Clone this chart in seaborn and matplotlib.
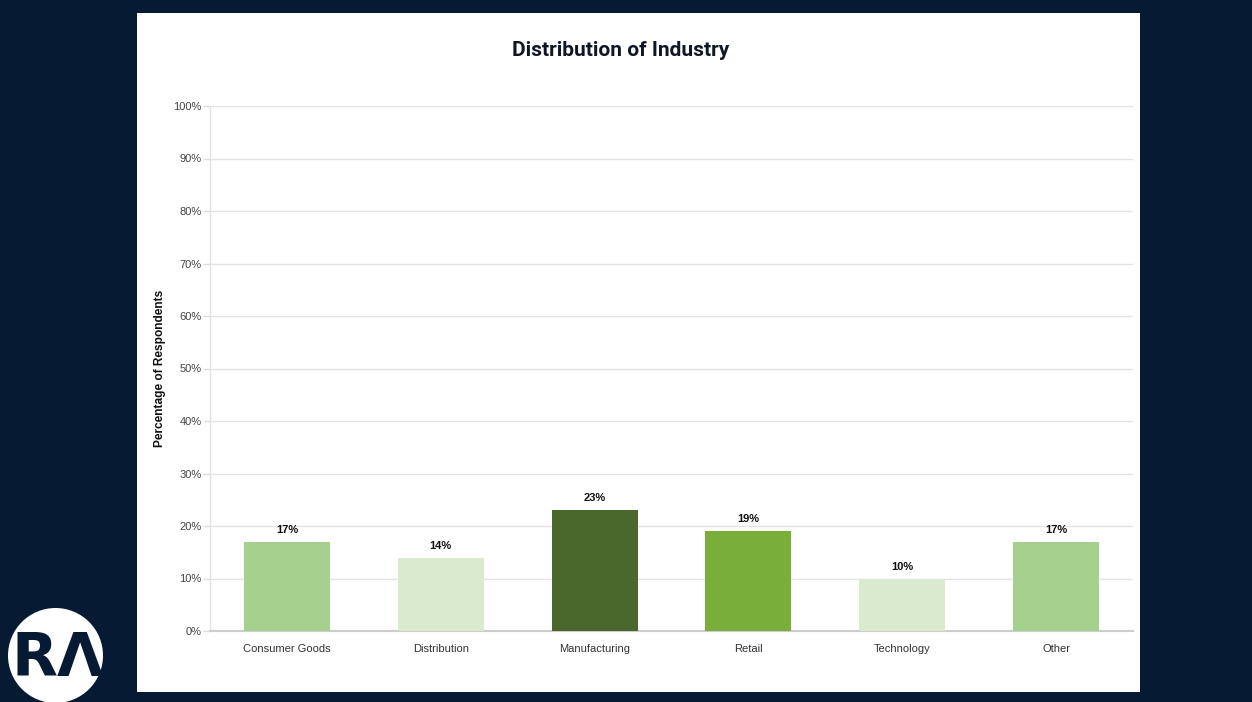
import matplotlib
matplotlib.use("Agg")
import matplotlib.pyplot as plt
from matplotlib import font_manager
from matplotlib.patches import Rectangle, Circle
import seaborn as sns
import pandas as pd

# Survey results
categories = ["Consumer Goods", "Distribution", "Manufacturing", "Retail", "Technology", "Other"]
shares = [17, 14, 23, 19, 10, 17]
bar_colors = ["#a6d08d", "#d9eace", "#4a682c", "#7aae3a", "#d9eace", "#a6d08d"]
y_ticks = list(range(0, 101, 10))

# keep the regular-width Liberation Sans faces only
font_manager.fontManager.ttflist = [f for f in font_manager.fontManager.ttflist
                                    if "Narrow" not in f.fname]

sns.set_theme(style="white")
plt.rcParams["font.family"] = ["Liberation Sans", "DejaVu Sans"]

W, H = 1252, 702
fig = plt.figure(figsize=(W / 100, H / 100), dpi=100, facecolor="#061a33")

# white card behind the chart
fig.patches.append(Rectangle((137 / W, (H - 692) / H), (1140 - 137) / W, (692 - 13) / H,
                             transform=fig.transFigure, facecolor="white", edgecolor="none", zorder=-5))

ax = fig.add_axes([210 / W, (H - 631) / H, (1133 - 210) / W, (631 - 106) / H])
ax.set_facecolor("none")

df = pd.DataFrame({"Industry": categories, "Share": shares})
sns.barplot(data=df, x="Industry", y="Share", hue="Industry", palette=bar_colors,
            legend=False, width=0.56, saturation=1, linewidth=0, ax=ax, zorder=3)

for container, v in zip(ax.containers, shares):
    ax.bar_label(container, labels=[f"{v}%"], padding=5, fontsize=8, fontweight="bold", color="#111111")

ax.set_ylim(0, 100)
ax.set_xlim(-0.5, len(categories) - 0.5)
ax.set_yticks(y_ticks)
ax.set_yticklabels([f"{t}%" for t in y_ticks], fontsize=8, color="#444444")
ax.tick_params(axis="y", length=5, width=1, color="#dddddd", pad=1, left=True)
ax.tick_params(axis="x", length=0, pad=9, labelsize=8, labelcolor="#333333")
ax.yaxis.grid(True, color="#e3e3e3", linewidth=1, zorder=0)
ax.set_axisbelow(True)

for side in ["top", "right"]:
    ax.spines[side].set_visible(False)
ax.spines["left"].set_color("#e3e3e3")
ax.spines["left"].set_linewidth(1)
ax.spines["bottom"].set_color("#cccccc")
ax.spines["bottom"].set_linewidth(1.5)

ax.set_xlabel("")
ax.set_ylabel("Percentage of Respondents", fontsize=8.6, fontweight="bold", color="#111111", labelpad=5)

fig.text(621 / W, 1 - 51 / H, "Distribution of Industry", ha="center", va="center",
         fontsize=15, fontweight="bold", color="#0f1626", family=["Roboto", "DejaVu Sans"])

# logo badge
lax = fig.add_axes([8 / W, (H - 703) / H, 95 / W, 95 / H])
lax.set_xlim(0, 1)
lax.set_ylim(0, 1)
lax.set_aspect("equal")
lax.axis("off")
lax.add_patch(Circle((0.5, 0.5), 0.5, facecolor="white", edgecolor="none"))
lax.text(0.52, 0.46, "RΛ", ha="center", va="center", fontsize=43, color="#061a33",
         family="DejaVu Sans", fontweight="bold")

fig.savefig("out.png", dpi=100, facecolor=fig.get_facecolor())
